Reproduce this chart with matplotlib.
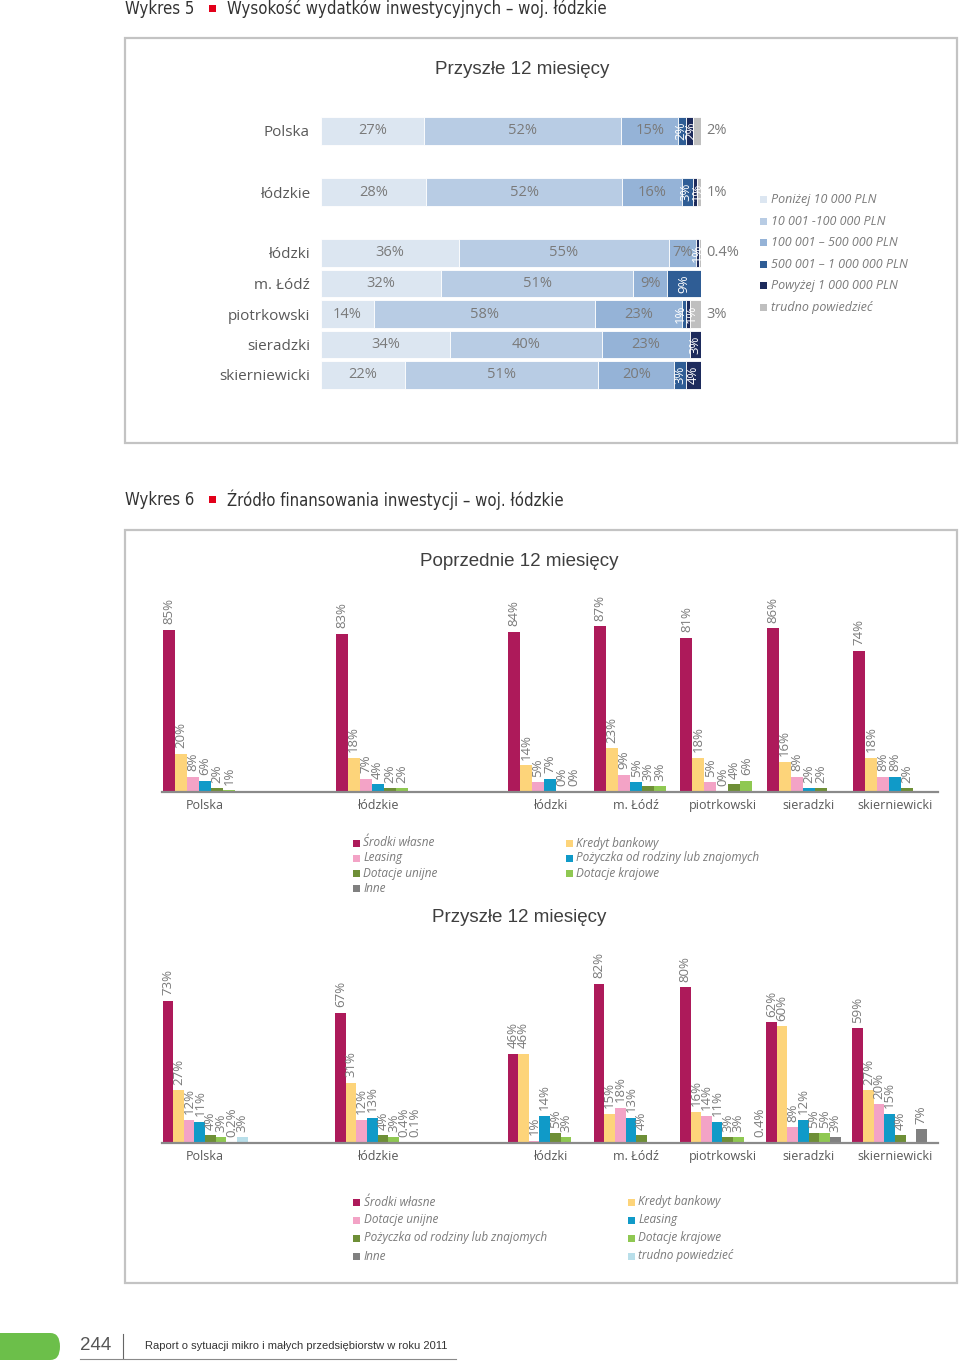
import numpy as np
import matplotlib
matplotlib.use("Agg")
import matplotlib.pyplot as plt
from matplotlib.patches import Rectangle, FancyBboxPatch
from matplotlib.lines import Line2D

# ------------------------------------------------------------------ data
regions = ['Polska', 'łódzkie', 'łódzki', 'm. Łódź', 'piotrkowski', 'sieradzki', 'skierniewicki']
slots = [0, 2, 4, 5, 6, 7, 8]          # category slots (1 and 3 are empty spacers)

# Wykres 5 - investment spending, next 12 months
spend_labels = ['Poniżej 10 000 PLN', '10 001 -100 000 PLN', '100 001 – 500 000 PLN',
                '500 001 – 1 000 000 PLN', 'Powyżej 1 000 000 PLN', 'trudno powiedzieć']
below_10k = [27, 28, 36, 32, 14, 34, 22]
from_10k = [52, 52, 55, 51, 58, 40, 51]
from_100k = [15, 16, 7, 9, 23, 23, 20]
from_500k = [2, 3, 0, 9, 1, 0, 3]
above_1m = [2, 1, 1, 0, 1, 3, 4]
dont_know = [2, 1, 0.4, 0, 3, 0, 0]

# Wykres 6 - previous 12 months
prev_series = ['Środki własne', 'Kredyt bankowy', 'Leasing', 'Pożyczka od rodziny lub znajomych',
               'Dotacje unijne', 'Dotacje krajowe', 'Inne']
prev_own = [85, 83, 84, 87, 81, 86, 74]
prev_credit = [20, 18, 14, 23, 18, 16, 18]
prev_leasing = [8, 7, 5, 9, 5, 8, 8]
prev_loan = [6, 4, 7, 5, 0, 2, 8]
prev_eu = [2, 2, 0, 3, 4, 2, 2]
prev_national = [1, 2, 0, 3, 6, None, None]
prev_other = [None, None, None, None, None, None, None]

# Wykres 6 - next 12 months
next_series = ['Środki własne', 'Kredyt bankowy', 'Dotacje unijne', 'Leasing',
               'Pożyczka od rodziny lub znajomych', 'Dotacje krajowe', 'Inne', 'trudno powiedzieć']
next_own = [73, 67, 46, 82, 80, 62, 59]
next_credit = [27, 31, 46, 15, 16, 60, 27]
next_eu = [12, 12, 1, 18, 14, 8, 20]
next_leasing = [11, 13, 14, 13, 11, 12, 15]
next_loan = [4, 4, 5, 4, 3, 5, 4]
next_national = [3, 3, 3, None, 3, 5, None]
next_other = [0.2, 0.4, None, None, None, 3, 7]
next_dont_know = [3, 0.1, None, None, 0.4, None, None]

# ------------------------------------------------------------------ style
W, H = 960, 1365
GREY = '#7a7a7a'
DARK = '#595959'
LAB = 'Open Sans'
SANS = 'Liberation Sans'

spend_colors = ['#dce6f1', '#b8cce4', '#95b3d7', '#2f5d95', '#1d2b5c', '#bfbfbf']
C_OWN, C_CRED, C_PINK, C_BLUE = '#ad1a5a', '#fdd47a', '#f3a3c6', '#109ac8'
C_OLIVE, C_LGREEN, C_GREY, C_LBLUE = '#6e8f37', '#8fc852', '#808080', '#b9dfea'
prev_colors = [C_OWN, C_CRED, C_PINK, C_BLUE, C_OLIVE, C_LGREEN, C_GREY]
next_colors = [C_OWN, C_CRED, C_PINK, C_BLUE, C_OLIVE, C_LGREEN, C_GREY, C_LBLUE]

fig = plt.figure(figsize=(W / 100, H / 100), dpi=100)
fig.patch.set_facecolor('white')


def fx(x):
    return x / W


def fy(y):
    return 1 - y / H


def axes_px(x0, y0, x1, y1):
    return fig.add_axes([x0 / W, 1 - y1 / H, (x1 - x0) / W, (y1 - y0) / H])


def pct(v):
    if float(v).is_integer():
        return f'{int(v)}%'
    return f'{v:g}%'


def ftext(x, y, s, **kw):
    fig.text(fx(x), fy(y), s, **kw)


def frect(x, y, w, h, **kw):
    fig.patches.append(Rectangle((fx(x), fy(y + h)), w / W, h / H,
                                 transform=fig.transFigure, figure=fig, **kw))


# ------------------------------------------------------------------ frames & headers
frect(125, 38, 832, 405, fill=False, edgecolor='#c3c3c3', linewidth=1.6)
frect(125, 530, 832, 753, fill=False, edgecolor='#c3c3c3', linewidth=1.6)

for yy, num, title in [(9, 'Wykres 5', 'Wysokość wydatków inwestycyjnych – woj. łódzkie'),
                       (500, 'Wykres 6', 'Źródło finansowania inwestycji – woj. łódzkie')]:
    ftext(125, yy, num, ha='left', va='center', fontsize=12, color='#333333',
          family='DejaVu Sans', stretch='condensed')
    frect(209, yy - 4, 7, 7, facecolor='#e2001a', edgecolor='none')
    ftext(227, yy, title, ha='left', va='center', fontsize=12, color='#333333',
          family='DejaVu Sans', stretch='condensed')

ftext(522, 69, 'Przyszłe 12 miesięcy', ha='center', va='center', fontsize=13.5, color='#3f3f3f', family=SANS)
ftext(519, 561, 'Poprzednie 12 miesięcy', ha='center', va='center', fontsize=13.5, color='#3f3f3f', family=SANS)
ftext(519, 918, 'Przyszłe 12 miesięcy', ha='center', va='center', fontsize=13.5, color='#3f3f3f', family=SANS)

# ------------------------------------------------------------------ Wykres 5 (100% stacked bars)
ax1 = axes_px(321, 115.75, 701, 390.25)
rows = np.array([below_10k, from_10k, from_100k, from_500k, above_1m, dont_know], float).T
shares = rows / rows.sum(axis=1, keepdims=True) * 100
left = np.zeros(len(regions))
for j in range(rows.shape[1]):
    ax1.barh(slots, shares[:, j], left=left, height=0.9, color=spend_colors[j],
             edgecolor='white', linewidth=0.6)
    left += shares[:, j]
ax1.set_xlim(0, 100)
ax1.set_ylim(8.5, -0.5)
for sp in ax1.spines.values():
    sp.set_visible(False)
ax1.set_xticks([])
ax1.set_yticks(slots, regions)
ax1.tick_params(axis='y', length=0, pad=8, labelsize=11, labelcolor=DARK)
for t in ax1.get_yticklabels():
    t.set_family(LAB)

for i, s in enumerate(slots):
    cum = np.concatenate([[0], np.cumsum(shares[i])])
    rot = []
    for j in range(rows.shape[1]):
        v = rows[i, j]
        if v <= 0:
            continue
        c = (cum[j] + cum[j + 1]) / 2
        if j < 3:
            ax1.text(c, s, pct(v), ha='center', va='center', fontsize=10.5, color=GREY, family=LAB)
        elif j < 5:
            rot.append([c, v])
        else:
            ax1.text(101.5, s, pct(v), ha='left', va='center', fontsize=10.5, color=GREY,
                     family=LAB, clip_on=False)
    if len(rot) == 2 and rot[1][0] - rot[0][0] < 2.8:
        mid = (rot[0][0] + rot[1][0]) / 2
        rot[0][0], rot[1][0] = mid - 1.4, mid + 1.4
    for c, v in rot:
        ax1.text(c, s, pct(v), rotation=90, ha='center', va='center', fontsize=9.5,
                 color='white', family=LAB, clip_on=False)

# legend (Wykres 5)
for k, (lab, col) in enumerate(zip(spend_labels, spend_colors)):
    y = 199.5 + k * 21.6
    frect(760, y - 3.5, 7, 7, facecolor=col, edgecolor='none')
    ftext(771, y, lab, ha='left', va='center', fontsize=9, style='italic', color=GREY, family=LAB)


# ------------------------------------------------------------------ grouped bars (Wykres 6)
def grouped(ax, series, colors, frac, fs):
    n = len(series)
    w = frac / n
    for j, (vals, col) in enumerate(zip(series, colors)):
        v = np.array([np.nan if x is None else x for x in vals], float)
        xs = np.array(slots, float) + (j - (n - 1) / 2) * w
        ax.bar(xs, np.nan_to_num(v), width=w, color=col, linewidth=0)
        for x, val in zip(xs, v):
            if np.isnan(val):
                continue
            ax.annotate(pct(val), (x, val), xytext=(0, 4), textcoords='offset points',
                        rotation=90, ha='center', va='bottom', fontsize=fs, color=GREY,
                        family=LAB, annotation_clip=False)
    ax.set_xlim(-0.5, 8.5)
    ax.set_ylim(0, 100)
    for k, sp in ax.spines.items():
        sp.set_visible(k == 'bottom')
    ax.spines['bottom'].set_color('#8a8a8a')
    ax.spines['bottom'].set_linewidth(1.6)
    ax.set_yticks([])
    ax.set_xticks(slots, regions)
    ax.tick_params(axis='x', length=0, pad=5, labelsize=9, labelcolor=DARK)
    for t in ax.get_xticklabels():
        t.set_family(LAB)


ax2 = axes_px(162, 601.4, 938, 792)
grouped(ax2, [prev_own, prev_credit, prev_leasing, prev_loan, prev_eu, prev_national, prev_other],
        prev_colors, 0.975, 9.5)

ax3 = axes_px(162, 948.5, 938, 1143)
grouped(ax3, [next_own, next_credit, next_eu, next_leasing, next_loan, next_national, next_other,
              next_dont_know], next_colors, 0.985, 9.5)


def legend_grid(labels, colors, x_cols, y0, dy, text_dx, fs):
    for k, (lab, col) in enumerate(zip(labels, colors)):
        r, c = divmod(k, 2)
        x = x_cols[c]
        y = y0 + r * dy
        frect(x, y - 3.5, 7, 7, facecolor=col, edgecolor='none')
        ftext(x + text_dx, y, lab, ha='left', va='center', fontsize=fs, style='italic',
              color=GREY, family=LAB)


legend_grid(prev_series, prev_colors, [353, 566], 843, 15, 10, 8.5)
legend_grid(next_series, next_colors, [353, 628], 1202, 18, 10.5, 8.5)

# ------------------------------------------------------------------ footer
fig.patches.append(FancyBboxPatch((fx(-12), fy(1360)), 72 / W, 27 / H,
                                  boxstyle='round,pad=0,rounding_size=0.01',
                                  transform=fig.transFigure, figure=fig,
                                  facecolor='#6cbf4a', edgecolor='none'))
ftext(80, 1345, '244', ha='left', va='center', fontsize=13.5, color='#555555', family=SANS)
fig.add_artist(Line2D([fx(123), fx(123)], [fy(1334), fy(1358)], color='#666666', linewidth=0.8))
ftext(145, 1346, 'Raport o sytuacji mikro i małych przedsiębiorstw w roku 2011', ha='left',
      va='center', fontsize=8, color='#333333', family=SANS)
fig.add_artist(Line2D([fx(80), fx(456)], [fy(1358.5), fy(1358.5)], color='#8a8a8a', linewidth=0.8))

fig.savefig('out.png', dpi=100)
